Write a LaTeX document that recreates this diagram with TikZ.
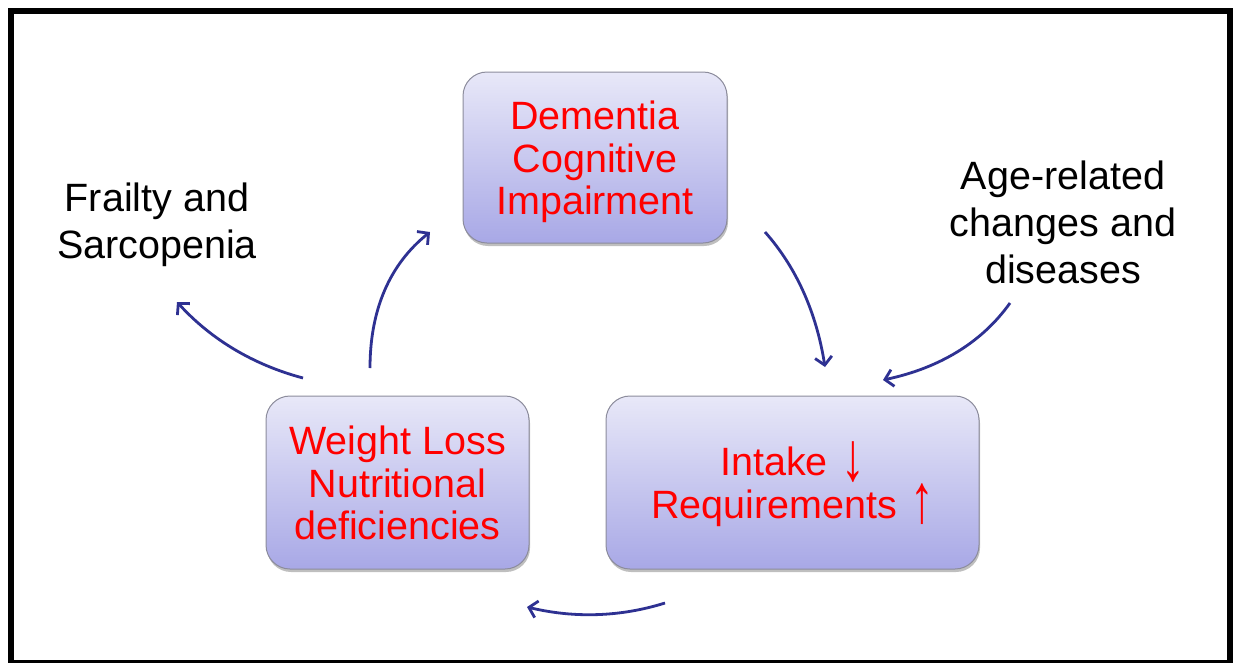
\documentclass[tikz,border=0pt]{standalone}
\usepackage{fontspec}
\setmainfont{Liberation Sans}
\usetikzlibrary{arrows.meta,shadows,calc}
\definecolor{arrowblue}{HTML}{2E3192}
\definecolor{boxtop}{HTML}{E8E8F8}
\definecolor{boxbot}{HTML}{A8A8E6}
\definecolor{boxedge}{HTML}{8C8C9C}
\newcommand{\tallarrow}[1]{\smash{\raisebox{-4.5pt}{\scalebox{1.2}[1.75]{#1}}}}
\newcommand{\boxlines}[1]{\raisebox{-6pt}[\height][\depth]{\begin{tabular}{@{}c@{}}#1\end{tabular}}}
\tikzset{
  cyclebox/.style={draw=boxedge, line width=1pt, rounded corners=24pt,
    top color=boxtop, bottom color=boxbot, text=red, align=center,
    font=\fontsize{39.5}{42.5}\selectfont, inner sep=0pt,
    drop shadow={shadow xshift=1pt, shadow yshift=-3pt, opacity=0.25, fill=black}},
  sidetext/.style={align=center, text=black, font=\fontsize{39.5}{47}\selectfont, inner sep=0pt},
  cyclearrow/.style={draw=arrowblue, line width=2.8pt,
    -{Straight Barb[length=8pt,width=17pt,line width=2.8pt]}}
}
\begin{document}
\begin{tikzpicture}[x=1pt,y=-1pt]
\useasboundingbox (0,0) rectangle (1235,662);
\fill[white] (0,0) rectangle (1235,662);
\draw[line width=6pt] (11,11) rectangle (1230,663);

\node[cyclebox, minimum width=264pt, minimum height=171pt] (dem) at (595,157.5) {\boxlines{Dementia\\Cognitive\\Impairment}};
\node[cyclebox, minimum width=373pt, minimum height=173pt] (int) at (792.5,482.5) {\boxlines{Intake\,\,\tallarrow{↓}\\Requirements\,\,\tallarrow{↑}}};
\node[cyclebox, minimum width=263pt, minimum height=173pt] (wl) at (397.5,482.5) {\boxlines{Weight Loss\\Nutritional\\deficiencies}};

\node[sidetext] (fr) at (157,225) {Frailty and\\Sarcopenia};
\node[sidetext] (age) at (1063,222) {Age-related\\changes and\\diseases};

\coordinate (a1s) at (765,232);
\coordinate (a1e) at (825,367);
\coordinate (q1) at (812,285);
\coordinate (a2s) at (1010,303);
\coordinate (a2e) at (883,380);
\coordinate (q2) at (968,362);
\coordinate (a3s) at (665,603);
\coordinate (a3e) at (527,607);
\coordinate (q3) at (598,624);
\coordinate (a4s) at (370,368);
\coordinate (a4e) at (430,232);
\coordinate (q4) at (370,280);
\coordinate (a5s) at (303,378);
\coordinate (a5e) at (177,302);
\coordinate (q5) at (228,358);

\foreach \i in {1,...,5}{
  \draw[cyclearrow] (a\i s) .. controls ($(a\i s)!2/3!(q\i)$) and ($(a\i e)!2/3!(q\i)$) .. (a\i e);
}
\end{tikzpicture}
\end{document}
